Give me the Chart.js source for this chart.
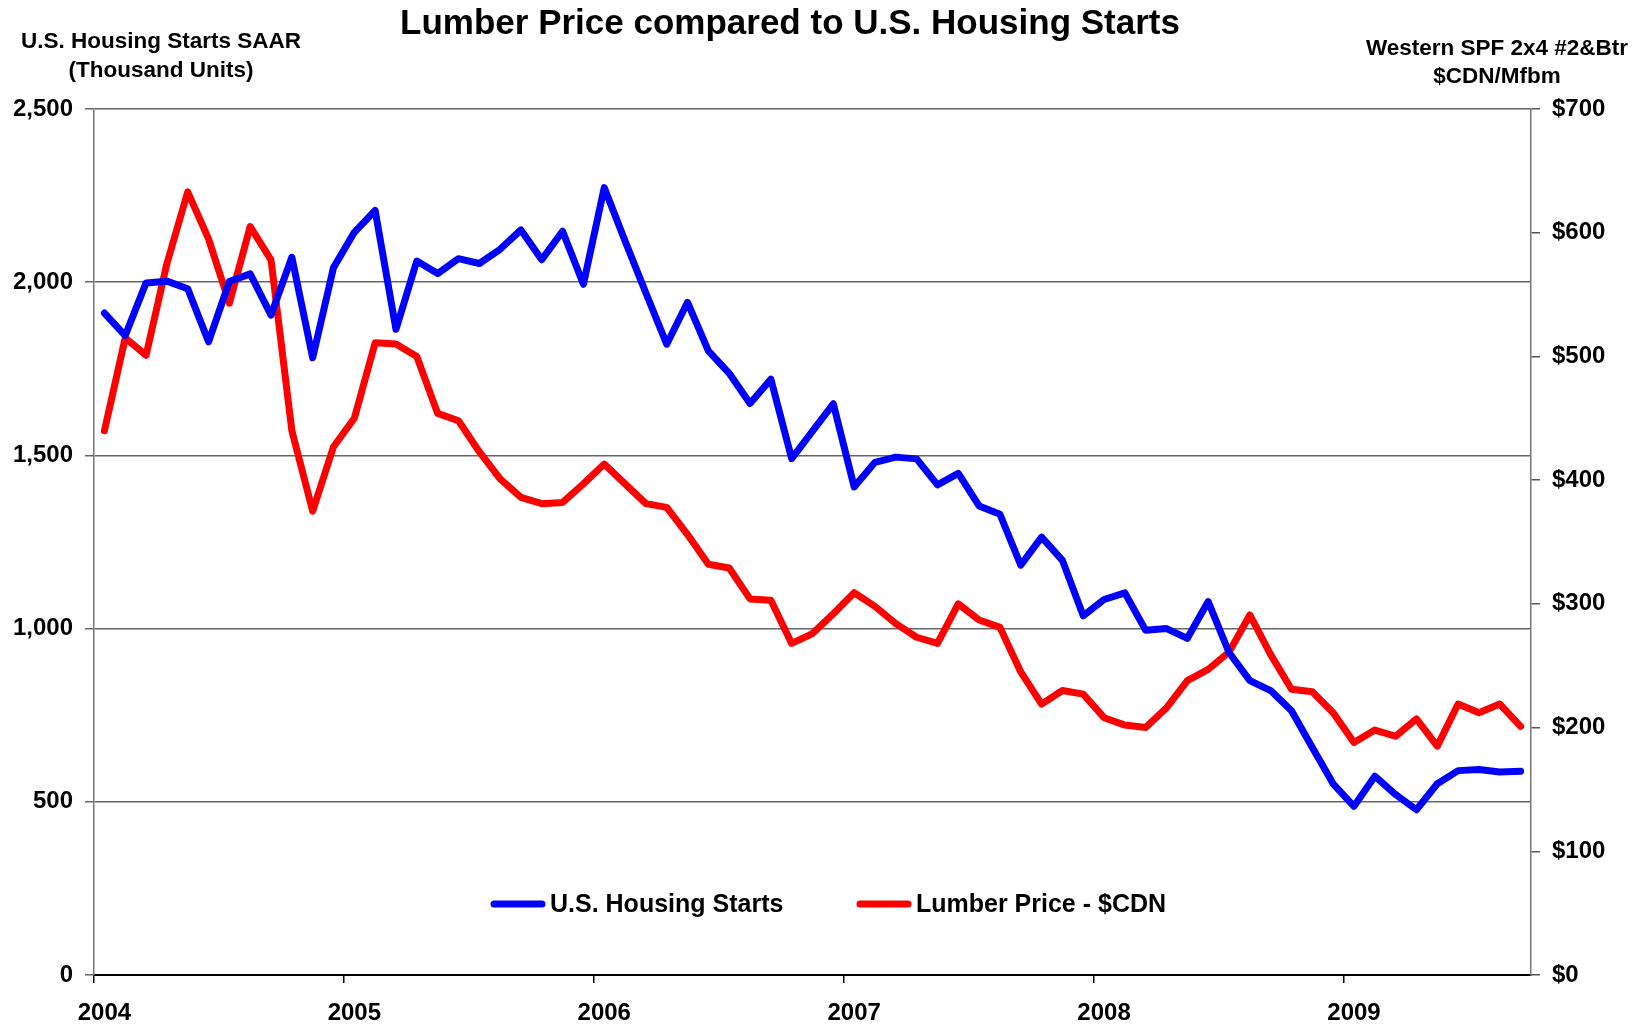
<!DOCTYPE html>
<html>
<head>
<meta charset="utf-8">
<title>Lumber Price compared to U.S. Housing Starts</title>
<style>
  html, body { margin: 0; padding: 0; background: #fff; }
  #wrap { width: 1642px; height: 1026px; }
</style>
<script src="https://cdn.jsdelivr.net/npm/chart.js@4.4.0/dist/chart.umd.min.js"></script>
</head>
<body>
<div id="wrap"><canvas id="chart" width="1642" height="1026"></canvas></div>
<script>
// categories
const years = ['2004', '2005', '2006', '2007', '2008', '2009'];
const monthNames = ['Jan', 'Feb', 'Mar', 'Apr', 'May', 'Jun', 'Jul', 'Aug', 'Sep', 'Oct', 'Nov', 'Dec'];

// U.S. housing starts, SAAR, thousand units (Jan 2004 - Sep 2009)
const housingStarts = [
  1911, 1846, 1998, 2003, 1981, 1828, 2002, 2024, 1905, 2072, 1782, 2042,
  2144, 2207, 1864, 2061, 2025, 2068, 2054, 2095, 2151, 2065, 2147, 1994,
  2273, 2119, 1969, 1821, 1942, 1802, 1737, 1650, 1720, 1491, 1570, 1649,
  1409, 1480, 1495, 1490, 1415, 1448, 1354, 1330, 1183, 1264, 1197, 1037,
  1084, 1103, 995, 1000, 972, 1078, 931, 850, 821, 763, 657, 552,
  487, 574, 521, 477, 552, 590, 593, 586, 588,
];

// Western SPF 2x4 #2&Btr, $CDN/Mfbm
const lumberPrice = [
  440, 515, 501, 575, 633, 595, 543, 605, 578, 440, 375, 427,
  450, 511, 510, 500, 454, 448, 423, 401, 386, 381, 382, 397,
  413, 397, 381, 378, 356, 332, 329, 304, 303, 268, 276, 292,
  309, 298, 284, 273, 268, 300, 287, 281, 245, 219, 230, 227,
  208, 202, 200, 216, 238, 247, 261, 291, 259, 231, 229, 212,
  188, 198, 193, 207, 185, 219, 212, 219, 201,
];

const chartTitle = 'Lumber Price compared to U.S. Housing Starts';
const leftTitle = ['U.S. Housing Starts SAAR', '(Thousand Units)'];
const rightTitle = ['Western SPF 2x4 #2&Btr', '$CDN/Mfbm'];

const labels = [];
years.forEach((y) => monthNames.forEach((m) => labels.push(m + ' ' + y)));
labels.length = housingStarts.length;

const FONT = "'Liberation Sans', Arial, sans-serif";
Chart.defaults.font.family = FONT;
Chart.defaults.font.weight = 'bold';
Chart.defaults.font.size = 24;
Chart.defaults.color = '#000';

// 제목, 축 제목, 범례 (차트 영역 안)
const texts = {
  id: 'texts',
  afterDraw(chart) {
    const c = chart.ctx;
    c.save();
    c.fillStyle = '#000';
    c.textAlign = 'center';
    c.textBaseline = 'middle';
    c.font = 'bold 35px ' + FONT;
    c.fillText(chartTitle, 790, 24);
    c.font = 'bold 22.5px ' + FONT;
    c.fillText(leftTitle[0], 161, 42);
    c.fillText(leftTitle[1], 161, 71);
    c.fillText(rightTitle[0], 1497, 49);
    c.fillText(rightTitle[1], 1497, 77);

    c.font = 'bold 25px ' + FONT;
    c.textAlign = 'left';
    const legendX = [490, 856];
    chart.data.datasets.forEach((ds, i) => {
      const x = legendX[i], y = 904;
      c.strokeStyle = ds.borderColor;
      c.lineWidth = 7;
      c.lineCap = 'round';
      c.beginPath();
      c.moveTo(x + 4, y);
      c.lineTo(x + 52, y);
      c.stroke();
      c.fillText(ds.label, x + 60, y + 1);
    });
    c.restore();
  },
};

new Chart(document.getElementById('chart'), {
  type: 'line',
  data: {
    labels,
    datasets: [
      { label: 'U.S. Housing Starts', data: housingStarts, borderColor: '#0000ff', yAxisID: 'y' },
      { label: 'Lumber Price - $CDN', data: lumberPrice, borderColor: '#ff0000', yAxisID: 'y1' },
    ],
  },
  options: {
    responsive: false,
    animation: false,
    layout: { padding: { top: 109 } },
    elements: {
      point: { radius: 0 },
      line: { borderWidth: 7, tension: 0, borderJoinStyle: 'round', borderCapStyle: 'round' },
    },
    plugins: { legend: { display: false }, title: { display: false }, tooltip: { enabled: false } },
    scales: {
      x: {
        offset: true,
        grid: {
          offset: true, drawOnChartArea: false, tickLength: 8, lineWidth: 1.5,
          color: (ctx) => (ctx.index % 12 === 0 ? '#000' : 'rgba(0,0,0,0)'),
        },
        border: { color: '#000', width: 2 },
        ticks: {
          autoSkip: false, maxRotation: 0, padding: 16,
          callback: (v, i) => (i % 12 === 0 ? years[i / 12] : ''),
        },
        afterFit: (s) => { s.height = 51; },
      },
      y: {
        position: 'left', min: 0, max: 2500,
        ticks: { stepSize: 500, padding: 12, callback: (v) => v.toLocaleString('en-US') },
        grid: { color: '#666', lineWidth: 1.5, tickLength: 9 },
        border: { color: '#777', width: 1.5 },
        afterFit: (s) => { s.width = 94; },
      },
      y1: {
        position: 'right', min: 0, max: 700,
        ticks: { stepSize: 100, padding: 12, callback: (v) => '$' + v },
        grid: { drawOnChartArea: false, tickLength: 9, color: '#555', lineWidth: 1.5 },
        border: { color: '#777', width: 1.5 },
        afterFit: (s) => { s.width = 111; },
      },
    },
  },
  plugins: [texts],
});
</script>
</body>
</html>
